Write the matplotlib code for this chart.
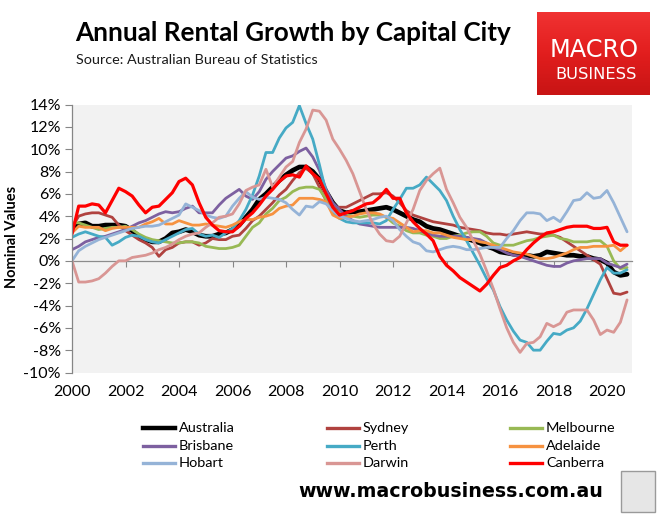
import numpy as np
import pandas as pd
import matplotlib
matplotlib.use("Agg")
import matplotlib.pyplot as plt
from matplotlib.lines import Line2D
from matplotlib.patches import Rectangle
from matplotlib.colors import LinearSegmentedColormap

# ---------------- data (quarterly, 2000Q1 - 2020Q4, annual % change) ----------------
quarters = pd.period_range("2000Q1", "2020Q4", freq="Q")

australia = [3.0,3.3,3.4,3.1, 3.1,3.2,3.2,3.2, 3.1,2.7,2.2,1.9, 1.7,1.7,2.0,2.5, 2.6,2.8,2.6,2.3,
             2.2,2.2,2.4,2.5, 2.8,3.2,3.9,4.6, 5.5,6.0,6.6,7.2, 7.7,8.1,8.4,8.4, 8.0,7.3,6.2,5.2,
             4.5,4.3,4.4,4.4, 4.5,4.6,4.7,4.8, 4.6,4.3,4.0,3.7, 3.5,3.1,2.9,2.8, 2.6,2.4,2.2,2.0,
             1.8,1.6,1.3,1.1, 0.8,0.7,0.6,0.5, 0.5,0.4,0.5,0.8, 0.7,0.6,0.5,0.5, 0.4,0.4,0.2,0.1,
             -0.2,-1.0,-1.3,-1.2]
sydney = [3.0,4.0,4.2,4.3, 4.3,4.1,3.9,3.2, 2.7,2.3,1.9,1.6, 1.2,0.4,1.0,1.2, 1.6,1.7,1.7,1.4,
          1.6,2.0,1.9,1.9, 2.2,2.3,2.9,3.6, 4.0,4.6,5.2,5.9, 6.4,7.2,7.9,8.3, 7.8,6.6,5.4,4.8,
          4.8,4.8,5.1,5.4, 5.7,6.0,6.0,6.1, 5.8,5.2,4.5,4.1, 3.9,3.7,3.5,3.4, 3.3,3.2,3.0,2.9,
          2.8,2.7,2.5,2.4, 2.4,2.3,2.4,2.5, 2.6,2.5,2.4,2.4, 2.3,2.1,1.7,1.3, 0.9,0.5,0.1,-0.3,
          -1.6,-2.9,-3.0,-2.8]
melbourne = [3.4,3.4,3.2,3.0, 2.8,2.9,3.0,3.0, 3.1,2.8,2.4,2.1, 1.9,1.8,1.7,1.6, 1.6,1.7,1.7,1.6,
             1.3,1.2,1.1,1.1, 1.2,1.4,2.2,3.0, 3.4,4.2,4.7,5.4, 5.7,6.2,6.5,6.6, 6.6,6.4,5.5,4.8,
             4.3,4.1,4.0,3.9, 4.0,4.1,4.1,3.9, 3.4,3.1,2.7,2.5, 2.5,2.3,2.2,2.0, 2.0,2.2,2.3,2.5,
             2.6,2.6,2.2,1.6, 1.4,1.4,1.4,1.6, 1.8,1.9,2.1,2.2, 2.3,2.0,1.9,1.7, 1.7,1.7,1.8,1.8,
             1.3,0.0,-0.7,-0.6]
brisbane = [1.0,1.3,1.7,1.9, 2.1,2.2,2.4,2.6, 2.8,3.1,3.4,3.6, 3.9,4.2,4.4,4.3, 4.4,4.7,4.9,4.3,
            4.3,4.3,5.0,5.6, 6.0,6.4,5.8,5.5, 6.2,7.3,8.0,8.6, 9.2,9.4,9.8,10.1, 9.3,8.1,6.4,5.2,
            4.6,4.0,3.6,3.3, 3.2,3.1,3.0,3.0, 3.0,3.0,3.0,2.9, 2.7,2.5,2.3,2.2, 2.2,2.2,2.2,2.1,
            2.0,1.9,1.6,1.2, 1.0,0.7,0.5,0.4, 0.2,0.0,-0.2,-0.4, -0.5,-0.5,-0.2,0.0, 0.1,0.2,0.2,0.2,
            -0.2,-0.4,-0.6,-0.3]
perth = [2.1,2.4,2.6,2.4, 2.2,2.1,1.4,1.7, 2.1,2.3,2.2,1.9, 1.7,1.6,1.9,2.2, 2.5,2.8,2.9,2.4,
         2.2,2.3,2.1,2.5, 2.9,3.6,4.6,5.9, 7.6,9.7,9.7,11.0, 11.9,12.4,13.9,12.3, 10.9,8.6,6.1,4.3,
         3.8,3.5,3.4,3.4, 3.4,3.4,3.3,3.6, 4.6,5.5,6.5,6.5, 6.8,7.5,6.9,6.3, 5.4,4.0,2.8,1.8,
         0.7,-0.4,-1.6,-2.6, -4.1,-5.3,-6.3,-7.1, -7.3,-8.0,-8.0,-7.2, -6.5,-6.6,-6.2,-6.0,
         -5.4,-4.3,-3.0,-1.7, -0.6,-1.1,-1.1,-0.8]
adelaide = [2.5,3.1,3.0,3.0, 3.0,2.7,2.9,3.0, 3.0,3.0,3.0,3.3, 3.5,3.8,3.3,3.3, 3.6,3.4,3.2,3.2,
            3.3,3.2,3.1,3.0, 3.2,3.5,3.7,3.7, 3.9,4.0,4.2,4.7, 4.9,5.0,5.6,5.6, 5.6,5.5,5.3,4.1,
            3.8,3.9,4.0,4.2, 4.3,4.3,4.2,3.9, 3.8,3.4,3.0,2.6, 2.7,2.7,2.5,2.5, 2.3,2.1,2.0,1.9,
            1.9,1.7,1.6,1.4, 1.2,1.0,0.8,0.7, 0.6,0.4,0.2,0.2, 0.3,0.5,0.7,1.0, 1.2,1.2,1.3,1.3,
            1.3,1.4,0.9,1.4]
hobart = [0.0,0.9,1.3,1.6, 1.9,2.1,2.3,2.5, 2.7,2.9,3.0,3.1, 3.1,3.2,3.5,3.8, 4.1,5.1,4.8,4.5,
          4.1,3.9,3.8,4.0, 4.9,5.6,6.2,5.7, 5.5,5.7,5.6,5.5, 5.2,4.6,4.1,4.9, 4.8,5.3,5.1,4.5,
          4.0,3.8,3.6,3.5, 3.6,3.7,3.9,4.0, 3.6,2.8,2.2,1.7, 1.5,0.9,0.8,1.0, 1.2,1.3,1.2,1.0,
          1.0,1.1,1.2,1.2, 1.2,2.0,2.7,3.6, 4.3,4.3,4.2,3.6, 3.9,3.5,4.4,5.4, 5.5,6.1,5.6,5.7,
          6.3,5.2,3.9,2.6]
darwin = [0.0,-1.9,-1.9,-1.8, -1.6,-1.1,-0.5,0.0, 0.0,0.3,0.4,0.5, 0.7,1.0,1.2,1.5, 1.9,2.2,2.4,2.5,
          3.0,3.4,3.9,4.0, 4.2,5.1,6.3,6.6, 6.8,8.2,6.6,7.5, 8.4,8.9,10.6,11.8, 13.5,13.4,12.6,10.9,
          10.0,9.0,7.8,6.2, 4.6,3.3,2.4,1.8, 1.7,2.2,3.4,4.6, 6.3,7.2,7.8,8.3, 6.4,5.2,3.9,3.0,
          1.8,0.6,-0.9,-2.5, -4.3,-6.0,-7.3,-8.2, -7.4,-7.3,-6.8,-5.6, -5.9,-5.6,-4.6,-4.4,
          -4.4,-4.4,-5.3,-6.6, -6.2,-6.4,-5.5,-3.5]
canberra = [2.4,4.9,4.9,5.1, 5.0,4.3,5.4,6.5, 6.2,5.8,5.0,4.3, 4.8,4.9,5.5,6.1, 7.1,7.4,6.8,5.2,
            3.9,3.2,2.7,2.6, 2.6,3.1,3.8,4.3, 5.0,5.8,6.4,7.1, 7.6,7.7,7.5,8.5, 7.8,7.3,6.0,4.8,
            4.1,4.3,4.5,4.8, 5.1,5.2,5.7,6.4, 5.6,5.6,4.3,3.5, 2.9,2.4,1.8,0.4, -0.4,-0.9,-1.5,-1.9,
            -2.3,-2.7,-2.1,-1.3, -0.6,-0.4,0.0,0.3, 1.0,1.6,2.1,2.5, 2.6,2.8,3.0,3.1, 3.1,3.1,2.9,2.9,
            3.0,1.7,1.4,1.4]

series_names = ["Australia", "Sydney", "Melbourne", "Brisbane", "Perth",
                "Adelaide", "Hobart", "Darwin", "Canberra"]
series_values = [australia, sydney, melbourne, brisbane, perth,
                 adelaide, hobart, darwin, canberra]
x_tick_labels = [str(y) for y in range(2000, 2021, 2)]
y_tick_values = list(range(-10, 15, 2))

# ---------------- styling ----------------
colors = ["#000000", "#B0423F", "#98B954", "#7D60A0", "#46AAC5",
          "#F69240", "#95B3D7", "#D99694", "#FF0000"]
widths = [3.4, 2.0, 2.0, 2.0, 2.0, 2.0, 2.0, 2.0, 2.3]

W, H = 660, 519
FONT = "Lato"
fig = plt.figure(figsize=(W / 100, H / 100), dpi=100)
fig.patch.set_facecolor("white")


def fx(x):
    return x / W


def fy(y):
    return 1 - y / H


renderer = fig.canvas.get_renderer()


def fit_text(x, y, s, width, ha="left", va="baseline", **kw):
    t = fig.text(fx(x), fy(y), s, fontsize=10, ha=ha, va=va, **kw)
    w = t.get_window_extent(renderer).width
    t.set_fontsize(10 * width / w)
    return t


# plot area: x 72..632 px, y 104.5..372.5 px
L, R, T, B = 72, 632, 104.5, 372.5
ax = fig.add_axes([fx(L), fy(B), (R - L) / W, (B - T) / H])
ax.set_facecolor("#F2F2F2")

xq = quarters.year + (quarters.quarter - 1) / 4.0
for name, vals, c, lw in zip(series_names, series_values, colors, widths):
    ax.plot(xq, vals, color=c, lw=lw, solid_joinstyle="round", solid_capstyle="round",
            label=name)

ax.set_xlim(2000, 2000 + (R - L) / 26.75)
ax.set_ylim(-10, 14)

# y axis
ax.set_yticks(y_tick_values)
ax.set_yticklabels([f"{v}%" for v in y_tick_values], fontfamily=FONT, fontsize=11.5)
ax.tick_params(axis="y", direction="out", length=5, width=0.8, color="#868686", pad=3)
for s in ["top", "right", "bottom"]:
    ax.spines[s].set_visible(False)
ax.spines["left"].set_color("#868686")
ax.spines["left"].set_linewidth(0.9)

# x labels at the bottom, tick marks on the zero line
ax.set_xticks([int(v) for v in x_tick_labels])
ax.set_xticklabels(x_tick_labels, fontfamily=FONT, fontsize=11.5)
ax.tick_params(axis="x", length=0, pad=9)
zero = ax.secondary_xaxis(10 / 24)
zero.set_xticks([int(v) for v in x_tick_labels])
zero.tick_params(axis="x", direction="out", length=4, width=0.8, color="#868686",
                 labelbottom=False, labeltop=False)
zero.spines["bottom"].set_color("#8C8C8C")
zero.spines["bottom"].set_linewidth(0.9)
for s in ["top", "left", "right"]:
    zero.spines[s].set_visible(False)

# y label
fig.text(fx(12), fy(237), "Nominal Values", rotation=90, ha="center", va="center",
         fontfamily=FONT, fontweight="bold", fontsize=10.5)

# title / subtitle
fit_text(75, 41, "Annual Rental Growth by Capital City", 435,
         fontfamily=FONT, fontweight="bold", color="black")
fit_text(76, 64, "Source: Australian Bureau of Statistics", 242,
         fontfamily=FONT, color="#1a1a1a")

# logo
lax = fig.add_axes([fx(537), fy(95), (650 - 537) / W, (95 - 12) / H])
grad = np.linspace(0, 1, 64).reshape(-1, 1)
cmap = LinearSegmentedColormap.from_list("red", ["#F03232", "#E21E1E", "#C81414"])
lax.imshow(grad, aspect="auto", cmap=cmap, extent=[0, 1, 0, 1], origin="upper")
lax.set_axis_off()
fit_text(594, 57, "MACRO", 89, ha="center",
         fontfamily=["Liberation Sans Narrow", "DejaVu Sans"], color="white")
fit_text(596, 79, "BUSINESS", 81, ha="center",
         fontfamily=["Liberation Sans Narrow", "DejaVu Sans"], color="white")

# legend (3 columns, row-major order)
col_x = [143, 327, 510]
row_y = [428, 446, 463]
for i, (name, c) in enumerate(zip(series_names, colors)):
    r, k = divmod(i, 3)
    x0 = col_x[k]
    y0 = row_y[r]
    fig.add_artist(Line2D([fx(x0), fx(x0 + 32)], [fy(y0), fy(y0)],
                          transform=fig.transFigure, color=c,
                          lw=3.2 if i == 0 else 2.4))
    fig.text(fx(x0 + 36), fy(y0), name, ha="left", va="center",
             fontfamily=FONT, fontsize=10.4, color="black")

# footer url
fit_text(298, 497, "www.macrobusiness.com.au", 304,
         fontfamily="DejaVu Sans", fontweight="bold", color="black")

# small wolf badge
fig.add_artist(Rectangle((fx(621), fy(512)), (655 - 621) / W, (512 - 471) / H,
                         transform=fig.transFigure, facecolor="#E6E6E6",
                         edgecolor="#9A9A9A", lw=1.0))

fig.savefig("out.png", dpi=100)
